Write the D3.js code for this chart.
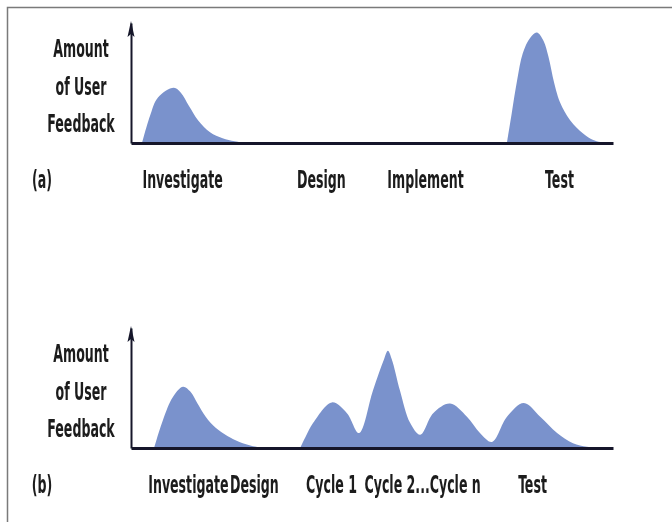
<!DOCTYPE html>
<html>
<head>
<meta charset="utf-8">
<title>Amount of User Feedback</title>
<style>
  html, body { margin: 0; padding: 0; background: #fff; overflow: hidden; }
  .lbl {
    font-family: "Liberation Sans Narrow", "DejaVu Sans Condensed", Arial, sans-serif;
    font-weight: bold;
    font-size: 25px;
    fill: #1b1b1b;
  }
</style>
<script src="https://d3js.org/d3.v7.min.js"></script>
</head>
<body>
<div id="chart"></div>
<script>
// timeline runs 0..100, feedback 0..100 (arrow tip)
const yTitle = ["Amount", "of User", "Feedback"];

const labelsA = ["Investigate", "Design", "Implement", "Test"];
const labelPosA = [10.6, 39.4, 61.0, 88.8];
const labelsB = ["Investigate", "Design", "Cycle 1", "Cycle 2...Cycle n", "Test"];
const labelPosB = [11.8, 25.5, 41.5, 60.4, 83.2];

// (a) waterfall: feedback only at start and at the end
const aInvestigate = [[2.3, 0], [3.9, 22], [5.6, 38], [8.9, 46], [10.3, 42], [12.0, 31], [13.9, 19], [16.4, 9], [19.0, 4], [21.5, 1.5], [23.7, 0]];
const aTest = [[78.0, 0], [79.0, 25], [80.1, 52], [81.3, 75], [82.8, 87.5], [84.2, 92], [85.6, 85], [86.6, 72], [87.8, 50],
  [89.0, 34], [91.1, 19], [93.8, 8], [95.9, 2.5], [98.3, 0]];

// (b) iterative: feedback in every cycle
const bInvestigate = [[4.8, 0], [6.6, 23], [8.7, 42.5], [10.8, 51], [12.3, 47], [13.8, 37], [15.5, 26], [17.5, 17], [20.0, 10],
  [22.5, 5], [25.3, 1.5], [28.4, 0]];
const bCycles = [[35.1, 0], [36.3, 10], [37.8, 21], [41.7, 38], [44.8, 29], [47.3, 12.5], [50.2, 48], [52.5, 74], [53.3, 81],
  [54.1, 74], [55.8, 48], [57.9, 21], [60.0, 11], [62.7, 29], [66.2, 37], [69.7, 26], [72.4, 12.5], [74.9, 5],
  [78.0, 26], [81.5, 37.5], [84.9, 26], [88.4, 12.5], [91.7, 4], [94.6, 1], [97.3, 0]];

const width = 672, height = 522;
const squeeze = 0.56; // the original type is a very narrow bold face

const svg = d3.select("#chart").append("svg")
  .attr("width", width)
  .attr("height", height);

// the scan is soft, blur a little
svg.append("defs").append("filter")
  .attr("id", "soft")
  .append("feGaussianBlur")
  .attr("stdDeviation", 0.6);

// frame
svg.append("path")
  .attr("d", `M7.5,${height} V7.5 H${width}`)
  .attr("fill", "none")
  .attr("stroke", "#7a7a7a")
  .attr("stroke-width", 1.5);

const x = d3.scaleLinear().domain([0, 100]).range([131, 613]);

function drawPanel(axisY, humps, labels, positions, tag) {
  const y = d3.scaleLinear().domain([0, 100]).range([axisY, axisY - 120]);
  const g = svg.append("g").attr("filter", "url(#soft)");

  const area = d3.area()
    .x(d => x(d[0]))
    .y0(y(0))
    .y1(d => Math.min(y(0), y(d[1])))
    .curve(d3.curveCatmullRom.alpha(0.5));

  g.selectAll(".hump")
    .data(humps)
    .enter()
    .append("path")
    .attr("class", "hump")
    .attr("d", area)
    .attr("fill", "#7a92cc");

  // x axis: no ticks, phase names under it
  const xAxis = g.append("g")
    .attr("transform", `translate(0,${axisY})`)
    .call(d3.axisBottom(x)
      .tickValues(positions)
      .tickFormat((d, i) => labels[i])
      .tickSize(0)
      .tickSizeOuter(0));
  xAxis.select(".domain")
    .attr("stroke", "#15182a")
    .attr("stroke-width", 3);
  xAxis.selectAll("text")
    .attr("class", "lbl")
    .attr("font-family", null)
    .attr("font-size", null)
    .attr("fill", null)
    .attr("y", 45)
    .attr("dy", null)
    .attr("transform", `scale(${squeeze},1)`);

  // y axis with arrow
  const yAxis = g.append("g")
    .attr("transform", `translate(${x(0)},0)`)
    .call(d3.axisLeft(y).tickValues([]).tickSizeOuter(0));
  yAxis.select(".domain")
    .attr("stroke", "#15182a")
    .attr("stroke-width", 2);
  const top = y(100);
  g.append("path")
    .attr("d", `M${x(0)},${top - 2} L${x(0) + 3.5},${top + 14} L${x(0)},${top + 11} L${x(0) - 3.5},${top + 14} Z`)
    .attr("fill", "#15182a");

  // axis title, centred left of the axis
  const title = g.append("g").attr("transform", `translate(81,0)`);
  title.selectAll("text")
    .data(yTitle)
    .enter()
    .append("text")
    .attr("class", "lbl")
    .attr("text-anchor", "middle")
    .attr("transform", (d, i) => `translate(0,${axisY - 86 + i * 37.5}) scale(${squeeze},1)`)
    .text(d => d);

  g.append("text")
    .attr("class", "lbl")
    .attr("text-anchor", "middle")
    .attr("transform", `translate(42,${axisY + 45}) scale(${squeeze},1)`)
    .text(tag);
}

drawPanel(143, [aInvestigate, aTest], labelsA, labelPosA, "(a)");
drawPanel(448, [bInvestigate, bCycles], labelsB, labelPosB, "(b)");
</script>
</body>
</html>
